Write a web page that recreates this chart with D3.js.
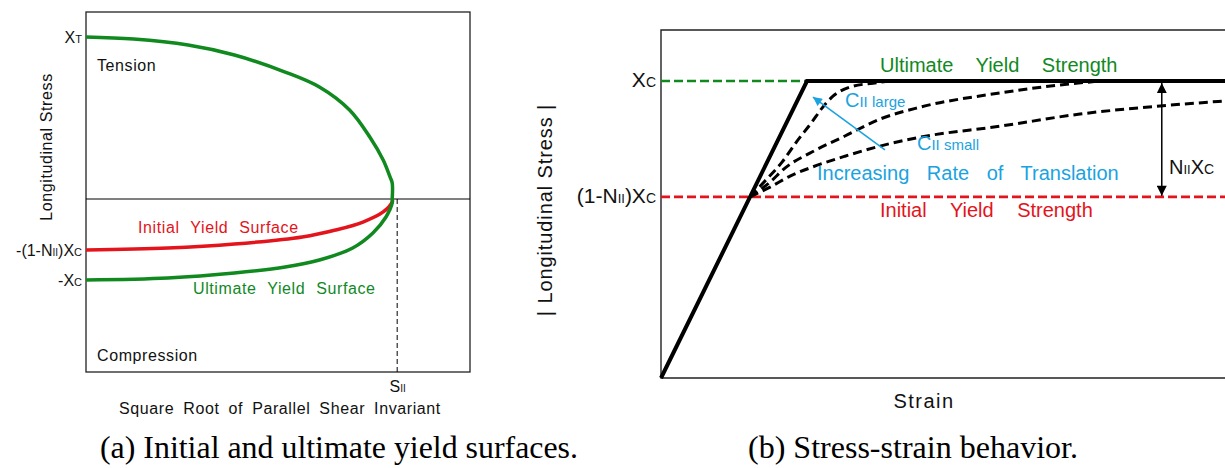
<!DOCTYPE html>
<html><head><meta charset="utf-8">
<script src="https://cdn.jsdelivr.net/npm/d3@7"></script>
<style>
body{margin:0;background:#fff;}
svg{display:block;font-family:"Liberation Sans",Arial,sans-serif;}
</style></head><body>
<svg id="chart" width="1225" height="468"></svg>
<script>
// ---------- Panel (a): yield surfaces, stress normalised by Xc ----------
// [sqrt of parallel shear invariant / S_II, longitudinal stress / Xc]
const tensionSurface = [[0,2.0],[0.153,1.975],[0.328,1.901],[0.477,1.778],[0.640,1.568],[0.750,1.383],[0.847,1.099],[0.912,0.765],[0.955,0.481],[0.977,0.272],[0.984,0.198],[0.984,0]];
const initialSurface = [[0,-0.63],[0.263,-0.605],[0.477,-0.556],[0.695,-0.469],[0.802,-0.383],[0.890,-0.284],[0.955,-0.160],[0.984,-0.037],[0.984,0]];
const ultimateSurface = [[0,-1.0],[0.263,-0.975],[0.477,-0.914],[0.640,-0.840],[0.750,-0.753],[0.857,-0.605],[0.922,-0.420],[0.964,-0.222],[0.984,-0.049],[0.984,0]];
const leftTickValues = [2.0, -0.63, -1.0];
const leftTickLabels = [[["X",16],["T",11]], [["-(1-N",16],["II",10],[")X",16],["C",11]], [["-X",16],["C",11]]];
const shearLimit = [1.0];
const shearLabel = [["S",16],["II",10]];

// ---------- Panel (b): stress-strain, strain / yield strain, stress / Xc ----------
const elasticPlastic = [[0,0],[1,1],[3.9,1]];
const rightTickValues = [1.0, 0.61];
const rightTickLabels = [[["X",21],["C",14]], [["(1-N",21],["II",13],[")X",21],["C",14]]];
const hardeningLarge = [[0.61,0.61],[0.719,0.667],[0.829,0.727],[0.932,0.798],[1.034,0.862],[1.103,0.909],[1.178,0.949],[1.295,0.980],[1.452,0.993],[1.568,1.0]];
const hardeningMid = [[0.61,0.61],[0.747,0.660],[0.849,0.707],[1.034,0.761],[1.260,0.815],[1.500,0.872],[1.774,0.912],[2.322,0.960],[2.733,0.987],[3.007,1.0]];
const hardeningSmall = [[0.61,0.61],[0.747,0.643],[0.884,0.680],[1.034,0.710],[1.260,0.747],[1.500,0.781],[1.774,0.811],[2.322,0.848],[2.870,0.889],[3.418,0.916],[3.863,0.933]];
const rangeStrain = 3.43;           // where the N_II Xc span is marked
const translationArrow = [[1.534,0.768],[1.041,0.946]];

const GREEN = "#10891f", RED = "#e3141b", CYAN = "#1aa3e0";
const svg = d3.select("#chart");

const defs = svg.append("defs");
function marker(id, color, w, h) {
  defs.append("marker").attr("id", id).attr("viewBox", "0 0 10 10")
    .attr("refX", 10).attr("refY", 5).attr("markerUnits", "userSpaceOnUse")
    .attr("markerWidth", w).attr("markerHeight", h).attr("orient", "auto-start-reverse")
    .append("path").attr("d", "M0,0L10,5L0,10Z").attr("fill", color);
}
marker("arrBlack", "#000", 12, 10);
marker("arrCyan", CYAN, 11, 9);

// rich text: segments of [text, size]
function rich(sel, segs, color) {
  sel.text(null);
  segs.forEach(([t, s]) => sel.append("tspan").attr("font-size", s).text(t));
  if (color) sel.attr("fill", color);
  return sel;
}

// ================= Panel (a) =================
const xL = d3.scaleLinear().domain([0, 1.234]).range([86, 470]);
const yL = d3.scaleLinear().domain([-2.136, 2.309]).range([372, 12]);
const gA = svg.append("g");

gA.append("rect").attr("x", xL(0)).attr("y", yL(2.309))
  .attr("width", xL(1.234) - xL(0)).attr("height", yL(-2.136) - yL(2.309))
  .attr("fill", "none").attr("stroke", "#222").attr("stroke-width", 1.3);
gA.append("line").attr("x1", xL(0)).attr("x2", xL(1.234)).attr("y1", yL(0)).attr("y2", yL(0))
  .attr("stroke", "#000").attr("stroke-width", 1);
gA.append("line").attr("x1", xL(shearLimit[0])).attr("x2", xL(shearLimit[0]))
  .attr("y1", yL(0)).attr("y2", yL(-2.136))
  .attr("stroke", "#000").attr("stroke-width", 1).attr("stroke-dasharray", "5,3");

const lineL = d3.line().x(d => xL(d[0])).y(d => yL(d[1])).curve(d3.curveCatmullRom.alpha(0.5));
gA.append("path").attr("d", lineL(initialSurface)).attr("fill", "none").attr("stroke", RED).attr("stroke-width", 3.5);
gA.append("path").attr("d", lineL(ultimateSurface)).attr("fill", "none").attr("stroke", GREEN).attr("stroke-width", 3.5);
gA.append("path").attr("d", lineL(tensionSurface)).attr("fill", "none").attr("stroke", GREEN).attr("stroke-width", 3.5);

// left axis labels
const axL = gA.append("g").attr("transform", `translate(${xL(0)},0)`)
  .call(d3.axisLeft(yL).tickValues(leftTickValues).tickSize(0).tickPadding(4));
axL.select(".domain").remove();
axL.attr("font-family", null).attr("font-size", null);
axL.selectAll(".tick text").each(function(d, i) {
  rich(d3.select(this), leftTickLabels[i], "#111").attr("dy", "0.36em");
});
// bottom axis: S_II
const axLB = gA.append("g").attr("transform", `translate(0,${yL(-2.136)})`)
  .call(d3.axisBottom(xL).tickValues(shearLimit).tickSize(0).tickPadding(9));
axLB.select(".domain").remove();
axLB.attr("font-family", null).attr("font-size", null);
axLB.selectAll(".tick text").each(function() { rich(d3.select(this), shearLabel, "#111"); });

const labL = {"font-size": 16, "letter-spacing": 0.6};
function txt(g, x, y, s, opts) {
  const t = g.append("text").attr("x", x).attr("y", y).text(s);
  Object.entries(opts).forEach(([k, v]) => t.attr(k, v));
  return t;
}
txt(gA, 97, 71, "Tension", {...labL, fill: "#111"});
txt(gA, 97, 361, "Compression", {...labL, fill: "#111"});
txt(gA, 138, 233, "Initial Yield Surface", {...labL, fill: RED, "word-spacing": 6});
txt(gA, 193, 294, "Ultimate Yield Surface", {...labL, fill: GREEN, "word-spacing": 6});
txt(gA, 280, 414, "Square Root of Parallel Shear Invariant", {...labL, fill: "#111", "text-anchor": "middle", "word-spacing": 4});
txt(gA, 0, 0, "Longitudinal Stress", {...labL, fill: "#111", "text-anchor": "middle",
  transform: "translate(52,147) rotate(-90)"});

// ================= Panel (b) =================
const xR = d3.scaleLinear().domain([0, 3.9]).range([661, 1230.4]);
const yR = d3.scaleLinear().domain([0, 1.172]).range([378, 30]);
const gB = svg.append("g");

gB.append("path").attr("d", `M${xR(3.9)},${yR(1.172)}H${xR(0)}V${yR(0)}H${xR(3.9)}`)
  .attr("fill", "none").attr("stroke", "#222").attr("stroke-width", 1.4);

// reference strength levels
gB.append("line").attr("x1", xR(0)).attr("x2", xR(1)).attr("y1", yR(1)).attr("y2", yR(1))
  .attr("stroke", GREEN).attr("stroke-width", 2.6).attr("stroke-dasharray", "9,4");
gB.append("line").attr("x1", xR(0)).attr("x2", xR(3.9)).attr("y1", yR(rightTickValues[1])).attr("y2", yR(rightTickValues[1]))
  .attr("stroke", RED).attr("stroke-width", 2.6).attr("stroke-dasharray", "9,4");

const lineR = d3.line().x(d => xR(d[0])).y(d => yR(d[1]));
const curveR = d3.line().x(d => xR(d[0])).y(d => yR(d[1])).curve(d3.curveMonotoneX);
[hardeningLarge, hardeningMid, hardeningSmall].forEach(c => {
  gB.append("path").attr("d", curveR(c)).attr("fill", "none").attr("stroke", "#000")
    .attr("stroke-width", 3).attr("stroke-dasharray", "9,5");
});
gB.append("path").attr("d", lineR(elasticPlastic)).attr("fill", "none").attr("stroke", "#000")
  .attr("stroke-width", 4).attr("stroke-linejoin", "miter");

// N_II Xc span
gB.append("line").attr("x1", xR(rangeStrain)).attr("x2", xR(rangeStrain))
  .attr("y1", yR(rightTickValues[1]) - 1).attr("y2", yR(1) + 2)
  .attr("stroke", "#000").attr("stroke-width", 1.5)
  .attr("marker-start", "url(#arrBlack)").attr("marker-end", "url(#arrBlack)");
// increasing translation rate arrow
gB.append("line").attr("x1", xR(translationArrow[0][0])).attr("y1", yR(translationArrow[0][1]))
  .attr("x2", xR(translationArrow[1][0])).attr("y2", yR(translationArrow[1][1]))
  .attr("stroke", CYAN).attr("stroke-width", 1.6).attr("marker-end", "url(#arrCyan)");

const axR = gB.append("g").attr("transform", `translate(${xR(0)},0)`)
  .call(d3.axisLeft(yR).tickValues(rightTickValues).tickSize(0).tickPadding(5));
axR.select(".domain").remove();
axR.attr("font-family", null).attr("font-size", null);
axR.selectAll(".tick text").each(function(d, i) {
  rich(d3.select(this), rightTickLabels[i], "#111").attr("dy", "0.36em");
});

const labR = {"font-size": 20, "word-spacing": 12};
txt(gB, 880, 72, "Ultimate Yield Strength", {...labR, fill: GREEN, "word-spacing": 17});
txt(gB, 880, 217, "Initial Yield Strength", {...labR, fill: RED, "word-spacing": 18});
txt(gB, 817, 180, "Increasing Rate of Translation", {...labR, fill: CYAN});
rich(gB.append("text").attr("x", 845).attr("y", 107), [["C",20],["II large",15]], CYAN);
rich(gB.append("text").attr("x", 917).attr("y", 150), [["C",20],["II small",15]], CYAN);
rich(gB.append("text").attr("x", 1169).attr("y", 174), [["N",20],["II",13],["X",20],["C",14]], "#111");
txt(gB, 924, 408, "Strain", {"font-size": 20, "letter-spacing": 1.5, "text-anchor": "middle", fill: "#111"});
txt(gB, 0, 0, "| Longitudinal Stress |", {"font-size": 20, "letter-spacing": 0.9, "text-anchor": "middle", fill: "#111",
  transform: "translate(552,210) rotate(-90)"});

// ================= Captions =================
const cap = {"font-family": "'Liberation Serif','Times New Roman',serif", "font-size": 31, fill: "#000", lengthAdjust: "spacingAndGlyphs"};
txt(svg, 100, 458, "(a) Initial and ultimate yield surfaces.", {...cap, textLength: 478});
txt(svg, 748, 458, "(b) Stress-strain behavior.", {...cap, textLength: 330});
</script>
</body></html>
